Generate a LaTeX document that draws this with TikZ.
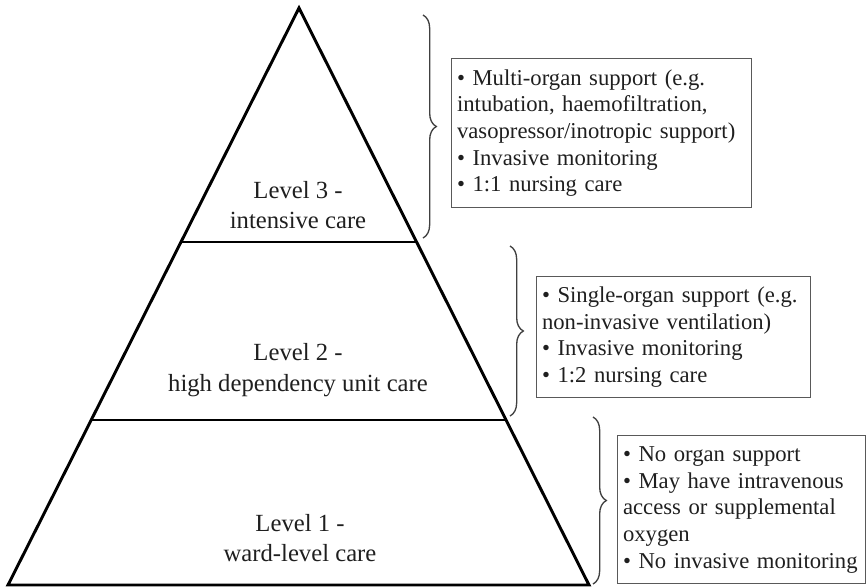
\documentclass[tikz,border=0pt]{standalone}
\usepackage{fontspec}
\setmainfont{Liberation Serif}
\usepackage{tikz}
\usetikzlibrary{calc,decorations.pathreplacing}
\tikzset{tier/.style={draw,line width=2.2pt,line join=miter},
  lvl/.style={align=center,text=black!88,font=\fontsize{18.5}{23}\selectfont},
  infobox/.style={draw=black!65,line width=1.1pt,anchor=north west,align=left,inner xsep=4pt,text=black!88,font=\fontsize{17}{20}\selectfont},
  curly/.style={decorate,decoration={brace,amplitude=10pt},draw=black!75,line width=1pt}}
\def\brc#1#2{\draw[curly] (#1) -- (#2);}
\newcommand{\tierlabel}[3]{\node[lvl] (#1) at (#2) {#3};}
\newcommand{\infonode}[5]{\node[infobox,text width=#3,minimum height=#4] (#1) at (#2) {#5};}

\begin{document}
\begin{tikzpicture}[x=0.75pt,y=-0.75pt]
    \useasboundingbox (0,0) rectangle (867,587);

    % pyramid
    \coordinate (apex) at (299,8);
    \coordinate (bl) at (8,585);
    \coordinate (br) at (589,585);
    \coordinate (cutLa) at ($(apex)!.4055!(bl)$);
    \coordinate (cutRa) at ($(apex)!.4055!(br)$);
    \coordinate (cutLb) at ($(apex)!.714!(bl)$);
    \coordinate (cutRb) at ($(apex)!.714!(br)$);
    \draw[tier] (apex) -- (br) -- (bl) -- cycle;
    \draw[tier] (cutLa) -- (cutRa);
    \draw[tier] (cutLb) -- (cutRb);

    \tierlabel{lvlc}{298,205}{Level 3 -\\intensive care}
    \tierlabel{lvlb}{298,370}{Level 2 -\\high dependency unit care}
    \tierlabel{lvla}{300,538}{Level 1 -\\ward-level care}

    % braces
    \coordinate (bc1) at (423,15);  \coordinate (bc2) at (423,238);
    \coordinate (bb1) at (510,246); \coordinate (bb2) at (510,416);
    \coordinate (ba1) at (593,417); \coordinate (ba2) at (593,584);
    \brc{bc1}{bc2}
    \brc{bb1}{bb2}
    \brc{ba1}{ba2}

    % boxes
    \infonode{boxc}{451,58}{217pt}{111.75pt}{\textbullet\ Multi-organ support (e.g.\\intubation, haemofiltration,\\vasopressor/inotropic support)\\\textbullet\ Invasive monitoring\\\textbullet\ 1:1 nursing care}
    \infonode{boxb}{536,276}{197.5pt}{90.75pt}{\textbullet\ Single-organ support (e.g.\\non-invasive ventilation)\\\textbullet\ Invasive monitoring\\\textbullet\ 1:2 nursing care}
    \infonode{boxa}{617,435}{178pt}{111pt}{\textbullet\ No organ support\\\textbullet\ May have intravenous\\access or supplemental\\oxygen\\\textbullet\ No invasive monitoring}
\end{tikzpicture}
\end{document}
